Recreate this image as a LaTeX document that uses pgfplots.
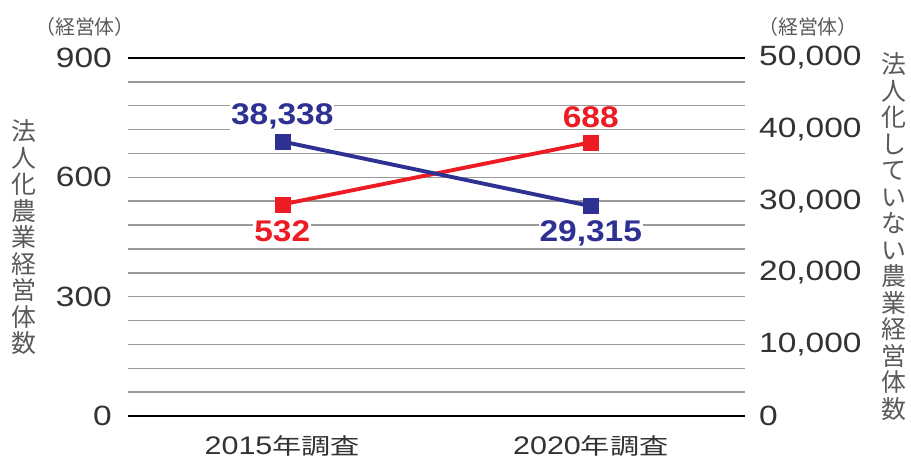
\documentclass[border=0pt]{standalone}
\usepackage{pgfplots}
\pgfplotsset{compat=1.18}
\usepackage{fontspec}
\setmainfont{Liberation Sans}
\newfontfamily\numfont[FakeStretch=1.2]{Liberation Sans}
\newfontfamily\boldnum[FakeStretch=1.12]{Liberation Sans}
\newfontfamily\jp{Noto Sans CJK JP}
\newfontfamily\jpp[RawFeature=+palt]{Noto Sans CJK JP}
\newfontfamily\jpwide[FakeStretch=1.3]{Noto Sans CJK JP}
\definecolor{myred}{HTML}{ED1C24}
\definecolor{myblue}{HTML}{2E3192}
\definecolor{gridgray}{HTML}{9A9A9A}
\definecolor{labgray}{HTML}{5A5A5A}
\definecolor{tickgray}{HTML}{333333}
\pgfplotsset{
  /pgf/number format/assume math mode=true,
  vlabel/.style={draw=none, mark=none, nodes near coords, point meta=explicit symbolic,
    every node near coord/.append style={anchor=center, fill=white, inner sep=1bp,
      font=\boldnum\bfseries\fontsize{30}{30}\selectfont, text=#1}},
}
\begin{document}
\begin{tikzpicture}
\path[use as bounding box] (-128bp,-43bp) rectangle (783bp,416bp);
% left axis (red)
\begin{axis}[
  at={(0,0)}, anchor=south west,
  scale only axis, width=617bp, height=358bp,
  xmin=-0.5, xmax=1.5, ymin=0, ymax=900,
  xtick={0,1},
  xticklabels={{2015\jpwide\fontsize{22.5}{22.5}\selectfont 年調査},{2020\jpwide\fontsize{22.5}{22.5}\selectfont 年調査}},
  ytick={0,300,600,900},
  minor ytick={60,120,...,840},
  ymajorgrids, yminorgrids,
  major grid style={gridgray, line width=1.5bp},
  minor grid style={gridgray, line width=1.5bp},
  extra y ticks={0,900}, extra y tick labels={},
  extra tick style={major grid style={black, line width=2.6bp}},
  axis line style={draw=none},
  tick style={draw=none},
  yticklabel style={font=\numfont\fontsize{28}{28}\selectfont, text=tickgray, anchor=east, inner sep=0pt, xshift=-16bp},
  xticklabel style={font=\numfont\fontsize{25.5}{25.5}\selectfont, text=tickgray, anchor=center, inner sep=0pt, yshift=-30bp},
  clip=false,
]
\addplot[myred, line width=3.9bp, mark=square*, mark size=7.5bp, mark options={line width=0.5bp}] coordinates {(0,532) (1,688)};
\addplot[vlabel=myred, every node near coord/.append style={yshift=-27bp}] coordinates {(0,532)[532]};
\addplot[vlabel=myred, every node near coord/.append style={yshift=25bp}] coordinates {(1,688)[688]};
\end{axis}
% right axis (blue)
\begin{axis}[
  at={(0,0)}, anchor=south west,
  scale only axis, width=617bp, height=358bp,
  xmin=-0.5, xmax=1.5, ymin=0, ymax=50000,
  axis x line=none, xtick=\empty,
  axis y line*=right,
  axis line style={draw=none},
  tick style={draw=none},
  ytick={0,10000,20000,30000,40000,50000},
  scaled y ticks=false,
  yticklabel style={font=\numfont\fontsize{28}{28}\selectfont, text=tickgray, anchor=west, inner sep=0pt, xshift=14bp, /pgf/number format/1000 sep={,}},
  clip=false,
]
\addplot[myblue, line width=3.9bp, mark=square*, mark size=7.5bp, mark options={line width=0.5bp}] coordinates {(0,38338) (1,29315)};
\addplot[vlabel=myblue, every node near coord/.append style={yshift=25bp}] coordinates {(0,38338)[38{,}338]};
\addplot[vlabel=myblue, every node near coord/.append style={yshift=-27bp}] coordinates {(1,29315)[29{,}315]};
\end{axis}
% axis titles
\node[align=center, font=\jp\fontsize{25}{26.6}\selectfont, text=labgray, inner sep=0pt] at (-104.5bp,178.5bp) {法\\人\\化\\農\\業\\経\\営\\体\\数};
\node[align=center, font=\jp\fontsize{25}{26.6}\selectfont, text=labgray, inner sep=0pt] at (766bp,179.5bp) {法\\人\\化\\し\\て\\い\\な\\い\\農\\業\\経\\営\\体\\数};
\node[font=\jpp\fontsize{20}{20}\selectfont, text=labgray, inner sep=0pt] at (-43bp,389bp) {（経営体）};
\node[font=\jpp\fontsize{20}{20}\selectfont, text=labgray, inner sep=0pt] at (680bp,389bp) {（経営体）};
\end{tikzpicture}
\end{document}
